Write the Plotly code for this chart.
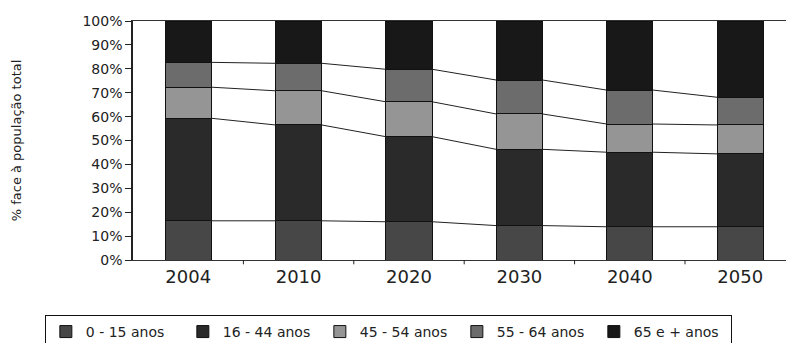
import plotly.graph_objects as go
import numpy as np

years = ["2004", "2010", "2020", "2030", "2040", "2050"]
series_names = ["0 - 15 anos", "16 - 44 anos", "45 - 54 anos", "55 - 64 anos", "65 e + anos"]
v_0_15 = [16.4, 16.4, 16.0, 14.4, 13.9, 13.9]
v_16_44 = [42.9, 40.1, 35.6, 31.9, 31.2, 30.5]
v_45_54 = [13.0, 14.3, 14.6, 14.8, 11.8, 12.1]
v_55_64 = [10.4, 11.5, 13.6, 14.2, 14.2, 11.6]
v_65 = [17.3, 17.7, 20.2, 24.7, 28.9, 31.9]
yticks = ["0%", "10%", "20%", "30%", "40%", "50%", "60%", "70%", "80%", "90%", "100%"]

colors = ["#474747", "#2a2a2a", "#959595", "#6c6c6c", "#181818"]
series = [v_0_15, v_16_44, v_45_54, v_55_64, v_65]

xpos = list(range(len(years)))
bw = 0.42
fig = go.Figure()
for name, vals, col in zip(series_names, series, colors):
    fig.add_trace(go.Bar(x=xpos, y=vals, name=name, width=bw,
                         marker=dict(color=col, line=dict(color="#111111", width=1))))

# series lines connecting segment tops
cum = np.cumsum(np.array(series), axis=0)
for k in range(cum.shape[0] - 1):
    xs, ys = [], []
    for i in range(len(years) - 1):
        xs += [i + bw / 2, i + 1 - bw / 2, None]
        ys += [cum[k][i], cum[k][i + 1], None]
    fig.add_trace(go.Scatter(x=xs, y=ys, mode="lines", showlegend=False,
                             line=dict(color="#222222", width=1), hoverinfo="skip"))

fig.update_layout(
    barmode="stack",
    width=786, height=343,
    margin=dict(l=133, r=0, t=21, b=83, autoexpand=False),
    paper_bgcolor="white", plot_bgcolor="white",
    font=dict(family="DejaVu Sans, Arial, sans-serif", color="#222222"),
    showlegend=True,
    legend=dict(orientation="h", x=-0.135, xanchor="left", y=-0.23, yanchor="top",
                bordercolor="#111111", borderwidth=1, font=dict(size=14),
                traceorder="normal", itemwidth=30, entrywidth=92),
    xaxis=dict(range=[-0.5, 5.415], tickvals=xpos, ticktext=years, ticks="",
               showline=True, linecolor="#333333", linewidth=1, mirror=True,
               showgrid=False, tickfont=dict(size=18), zeroline=False),
    yaxis=dict(range=[0, 100], tickvals=list(range(0, 101, 10)), ticktext=yticks,
               ticks="outside", ticklen=6, tickcolor="#222222",
               showline=True, linecolor="#222222", linewidth=1.5, showgrid=False,
               tickfont=dict(size=14), zeroline=False,
               title=dict(text="% face à população total", font=dict(size=13), standoff=58)),
)
# category-boundary ticks on x axis
for i in range(len(years) - 1):
    fig.add_shape(type="line", xref="x", yref="paper", x0=i + 0.5, x1=i + 0.5, y0=0, y1=-0.018,
                  line=dict(color="#222222", width=1))

fig.write_html("out.html")
